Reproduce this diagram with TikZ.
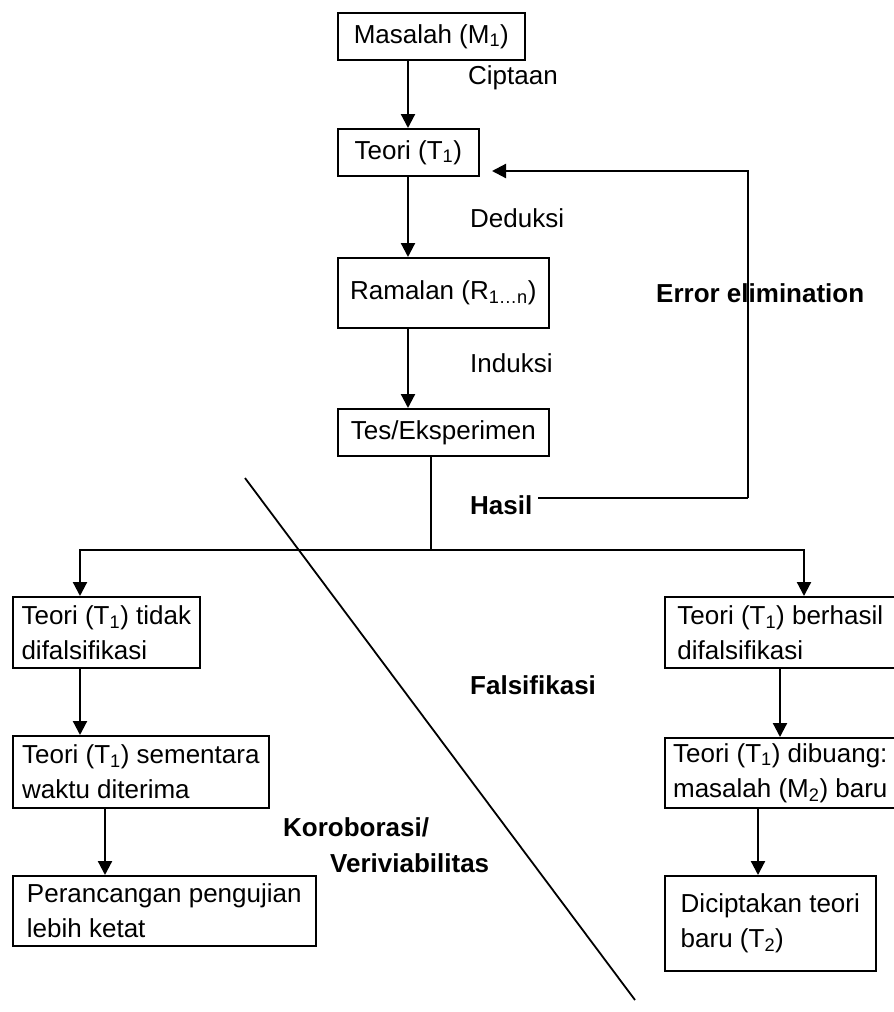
\documentclass[tikz,border=0pt]{standalone}
\usepackage{fontspec}
\setmainfont{Liberation Sans}
\usetikzlibrary{arrows.meta}

\begin{document}
\begin{tikzpicture}[x=1pt, y=-1pt,
  font=\fontsize{26}{35}\selectfont,
  box/.style={draw, line width=1.6pt, anchor=north west, align=left, inner sep=0pt},
  lbl/.style={anchor=west, inner sep=0pt},
  boldlbl/.style={lbl, font=\fontsize{26}{35}\selectfont\bfseries},
  link/.style={line width=1.8pt},
  arr/.style={line width=2.2pt, -{Triangle[width=14pt,length=14pt]}}]
  \useasboundingbox (0,0) rectangle (894,1012);

  % main chain
  \node[box, minimum width=187pt, minimum height=47pt] (m1) at (337,12) {Masalah (M\textsubscript{1})};
  \node[box, minimum width=141pt, minimum height=47pt] (t1) at (337,128) {Teori (T\textsubscript{1})};
  \node[box, minimum width=211pt, minimum height=70pt] (ram) at (337,257) {Ramalan (R\textsubscript{1…n})};
  \node[box, minimum width=211pt, minimum height=47pt] (tes) at (337,408) {Tes/Eksperimen};

  % left branch
  \node[box, minimum width=187pt, minimum height=71pt] (lf1) at (12,596) {Teori (T\textsubscript{1}) tidak\\difalsifikasi};
  \node[box, minimum width=256pt, minimum height=72pt] (lf2) at (12,735) {Teori (T\textsubscript{1}) sementara\\waktu diterima};
  \node[box, minimum width=303pt, minimum height=70pt] (lf3) at (12,875) {Perancangan pengujian\\lebih ketat};

  % right branch
  \node[box, minimum width=231pt, minimum height=71pt] (rf1) at (664,596) {Teori (T\textsubscript{1}) berhasil\\difalsifikasi};
  \node[box, minimum width=231pt, minimum height=70pt] (rf2) at (664,737) {Teori (T\textsubscript{1}) dibuang:\\masalah (M\textsubscript{2}) baru};
  \node[box, minimum width=211pt, minimum height=95pt] (rf3) at (664,875) {Diciptakan teori\\baru (T\textsubscript{2})};

  % labels
  \node[lbl] (cip) at (468,78) {Ciptaan};
  \node[lbl] (ded) at (470,218) {Deduksi};
  \node[lbl] (ind) at (470,363) {Induksi};
  \node[boldlbl] (err) at (656,293) {Error elimination};
  \node[boldlbl] (hasil) at (470,505) {Hasil};
  \node[boldlbl] (fals) at (470,685) {Falsifikasi};
  \node[boldlbl] (kor) at (283,827) {Koroborasi/};
  \node[boldlbl] (ver) at (330,863) {Veriviabilitas};

  \coordinate (split) at (431,550);
  \coordinate (fbstart) at (538,498);
  \coordinate (fbturn) at (748,498);
  \coordinate (fbtip) at (492,171);

  \draw[arr] ([xshift=71pt]m1.south west) -- ([xshift=71pt]t1.north west);
  \draw[arr] ([xshift=71pt]t1.south west) -- ([xshift=71pt]ram.north west);
  \draw[arr] ([xshift=71pt]ram.south west) -- ([xshift=71pt]tes.north west);

  % error elimination loop
  \draw[link] (fbstart) -- (fbturn);
  \draw[arr] (fbturn) |- (fbtip);

  % split into both outcomes
  \draw[link] ([xshift=94pt]tes.south west) -- (split);
  \draw[arr] (split) -| ([xshift=68pt]lf1.north west);
  \draw[arr] (split) -| ([xshift=140pt]rf1.north west);

  \draw[arr] ([xshift=68pt]lf1.south west) -- ([xshift=68pt]lf2.north west);
  \draw[arr] ([xshift=93pt]lf2.south west) -- ([xshift=93pt]lf3.north west);
  \draw[arr] ([xshift=116pt]rf1.south west) -- ([xshift=116pt]rf2.north west);
  \draw[arr] ([xshift=94pt]rf2.south west) -- ([xshift=94pt]rf3.north west);

  % dividing line
  \draw[link] (245,478) -- (635,1000);
\end{tikzpicture}
\end{document}
